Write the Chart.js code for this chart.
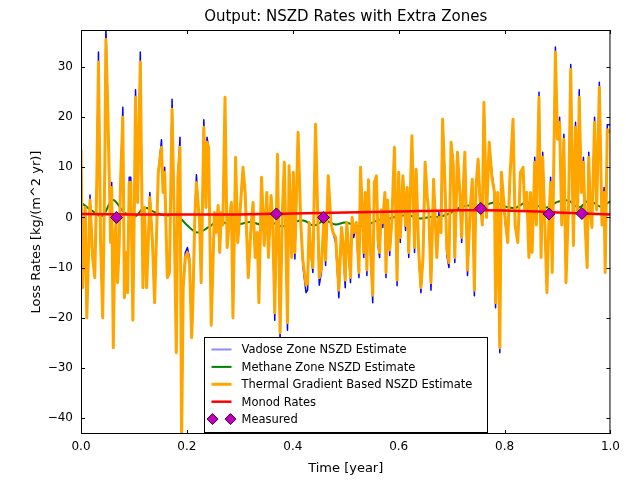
<!DOCTYPE html>
<html>
<head>
<meta charset="utf-8">
<title>NSZD Rates</title>
<script src="https://cdn.jsdelivr.net/npm/chart.js@4.4.1/dist/chart.umd.min.js"></script>
<style>
    html, body { margin: 0; padding: 0; background: #fff; }
</style>
</head>
<body>
<canvas id="nszd" width="626" height="482"></canvas>
<script>
// time axis (fraction of a year) for the vadose / thermal estimates
const times = [
    0.000, 0.003, 0.008, 0.011, 0.017, 0.022, 0.026, 0.030, 0.033, 0.037,
    0.041, 0.045, 0.047, 0.050, 0.053, 0.056, 0.058, 0.061, 0.064, 0.066,
    0.069, 0.072, 0.075, 0.079, 0.082, 0.085, 0.088, 0.091, 0.094, 0.098,
    0.101, 0.103, 0.107, 0.112, 0.117, 0.120, 0.124, 0.130, 0.135, 0.139,
    0.146, 0.152, 0.155, 0.158, 0.163, 0.167, 0.172, 0.176, 0.180, 0.183,
    0.187, 0.190, 0.193, 0.197, 0.201, 0.205, 0.209, 0.211, 0.215, 0.218,
    0.224, 0.227, 0.232, 0.236, 0.238, 0.241, 0.246, 0.252, 0.255, 0.259,
    0.262, 0.265, 0.268, 0.272, 0.276, 0.280, 0.284, 0.287, 0.292, 0.296,
    0.301, 0.306, 0.310, 0.316, 0.321, 0.325, 0.329, 0.333, 0.336, 0.341,
    0.346, 0.351, 0.354, 0.359, 0.362, 0.366, 0.371, 0.376, 0.380, 0.384,
    0.390, 0.393, 0.398, 0.401, 0.404, 0.410, 0.415, 0.419, 0.425, 0.428,
    0.431, 0.434, 0.438, 0.443, 0.450, 0.454, 0.459, 0.462, 0.467, 0.472,
    0.476, 0.481, 0.487, 0.492, 0.495, 0.499, 0.502, 0.506, 0.509, 0.512,
    0.515, 0.520, 0.525, 0.528, 0.531, 0.534, 0.537, 0.540, 0.543, 0.547,
    0.551, 0.554, 0.558, 0.561, 0.564, 0.567, 0.570, 0.574, 0.576, 0.579,
    0.583, 0.587, 0.592, 0.597, 0.600, 0.603, 0.608, 0.613, 0.616, 0.619,
    0.625, 0.630, 0.633, 0.638, 0.642, 0.646, 0.650, 0.654, 0.657, 0.661,
    0.666, 0.672, 0.676, 0.680, 0.683, 0.687, 0.691, 0.695, 0.699, 0.703,
    0.706, 0.711, 0.716, 0.719, 0.722, 0.725, 0.730, 0.735, 0.739, 0.743,
    0.746, 0.750, 0.753, 0.758, 0.761, 0.766, 0.771, 0.776, 0.781, 0.783,
    0.787, 0.791, 0.794, 0.801, 0.806, 0.810, 0.816, 0.820, 0.825, 0.830,
    0.835, 0.838, 0.842, 0.846, 0.849, 0.852, 0.857, 0.860, 0.865, 0.869,
    0.872, 0.875, 0.880, 0.884, 0.887, 0.890, 0.896, 0.900, 0.904, 0.908,
    0.912, 0.916, 0.921, 0.925, 0.930, 0.934, 0.938, 0.941, 0.945, 0.949,
    0.952, 0.956, 0.959, 0.962, 0.965, 0.970, 0.974, 0.979, 0.984, 0.988,
    0.990, 0.994, 1.000,
];

const thermal = [
    13.5, -14, 2, -20, 3.5, -8, -12, 8, 31, -5,
    -20, 10, 35.5, 24, 10, -5, 6, -26, -4, -1,
    -13, -6, 8, 20, -16, -7, -15, 7, 7, -20.5,
    4, 24, 3, 31, -14, 2, -14, 4, -5, -17,
    9, 14, 5, 9, -12, -11, 21.6, 0, -27, 8,
    14, -45, -14, -8, -7, -9, -24, -18, 0, 7,
    -1, -13, 18, 2, 15, 14, -21.5, 1, -3, 2.4,
    -7, 1, -1.5, 24, -6, -1, 3, -20, 12, -5,
    2, 10, 5, -12, -2, 3, -8, -3, -17, 8,
    -5.6, 5, -8, 4.4, -1, -19, 12.6, -23, 0, 11,
    -21, 10.3, -8, 9, -7, 17, -1, -8.5, -13.5, -13,
    -1, -7, -10, 18.6, -12, -10, 0, -8.5, 8.3, -1,
    -3, -4, -14.5, -2, -5, -12.5, -1, -7, -12, 0,
    -3, -1, -11, 10, 2, -7, 5, -10.5, 7.5, -6.5,
    -15.5, 7, 8.3, -4.5, -7, 1.5, -1, 5, -11, 3.5,
    -6.5, -1, 14, -12.5, 9, -4, 8.3, -1.6, 6, -7,
    16.3, -6, 9.6, -7, -14, -8, 11, 4, 1, -13,
    7.6, -8, 0, -3, 19.6, 8, -6.5, -9, 15, 10.5,
    -8, 13, 4, -4, 6, 13, -10.5, 1.5, 7.6, -14.5,
    6, 11.6, 4.5, -1.5, 23, 0, 15, 8, 5, -17,
    5, -26, 9, 0, -5, 7.6, 19.6, -1.6, -5, 9,
    10, 1.5, 5, -8, 5, -7, 11, -1.5, 24, -8,
    12, 2.5, -15, 0, 7, -11, 33, 15.6, 19, -1.5,
    15.6, -13, 3, 29.5, -5.6, 18, 1, 24, 5, 11,
    -1, -10, 12, 1, -2, 19, 1.5, 26, -1.5, 5,
    -11, 17.5, 17,
];

const vadose = [
    16, -14, 2, -20, 4.5, -8, -12, 8, 33, -5,
    -20, 10, 38, 25, 10, -5, 7, -26, -4, -2.5,
    -13, -6, 8, 22, -16, -8.5, -15, 8, 8, -20.5,
    4, 25.5, 3, 33, -14, 2, -14, 5, -5, -17,
    9, 15.5, 5, 10, -12, -11, 23.6, 0, -27, 8,
    16, -45, -14, -7, -6, -8, -24, -19, 0, 8.5,
    -2, -13, 19.5, 2, 16, 14, -21.5, 1, -3, 2.4,
    -7, 1, -1.5, 24, -6, -1, 3, -20, 12, -5,
    2, 10, 5, -12, -2, 3, -8, -3, -17, 8,
    -5.6, 5, -8, 4.4, -1, -20.5, 12.6, -24.5, 0, 11,
    -22.5, 10.3, -8, 9, -8.3, 17, -1, -9.6, -15, -14.5,
    -1, -7, -11, 18.6, -13.5, -11, 0, -9.6, 8.3, -1,
    -3, -5, -16, -2, -5, -14, -1, -8, -13, 0,
    -4, -1.5, -12, 10, 2, -8, 5, -11.6, 7.5, -7.5,
    -17, 7, 8.3, -5.6, -8, 1.5, -2, 5, -12, 3.5,
    -7.6, -1, 14, -13.6, 9, -5, 8.3, -2.6, 6, -8,
    16.3, -7, 9.6, -8, -15, -8, 11, 4, 1, -14.5,
    7.6, -8, 1, -3, 19.6, 9, -7.6, -10, 15, 11.6,
    -9, 13, 4, -5, 6, 13, -11.6, 1.5, 7.6, -15.6,
    6, 11.6, 5.6, -1.5, 23, 1, 15, 9, 5, -18,
    5, -27, 9, -1, -5, 7.6, 19.6, -1.6, -5, 9,
    10, 1.5, 5, -8, 5, -7, 12, -1.5, 25, -8,
    13, 2.5, -15, 0, 8, -11, 34, 15.6, 20, -1.5,
    16.6, -13, 3, 30.5, -5.6, 19, 1, 25.5, 5, 12,
    -1, -10, 13, 1, -2, 20, 1.5, 27, -1.5, 6,
    -11, 18.5, 18.5,
];

// methane zone estimate, sampled every 0.02 yr
const methaneTimes = [
    0.00, 0.02, 0.04, 0.06, 0.08, 0.10, 0.12, 0.14, 0.16, 0.18,
    0.20, 0.22, 0.24, 0.26, 0.28, 0.30, 0.32, 0.34, 0.36, 0.38,
    0.40, 0.42, 0.44, 0.46, 0.48, 0.50, 0.52, 0.54, 0.56, 0.58,
    0.60, 0.62, 0.64, 0.66, 0.68, 0.70, 0.72, 0.74, 0.76, 0.78,
    0.80, 0.82, 0.84, 0.86, 0.88, 0.90, 0.92, 0.94, 0.96, 0.98,
    1.00,
];
const methane = [
    3.0, 1.4, 0.3, 3.5, 1.2, 0.1, 1.9, 1.0, 0.4, 0.5,
    -1.5, -3.0, -2.0, -0.7, -1.4, -1.3, -0.9, -1.4, -1.0, -1.8,
    -1.0, -0.6, -1.6, -0.6, -1.4, -1.0, -1.7, -1.5, -0.6, -0.3,
    0.3, 0.4, -0.2, 0.1, 0.2, 1.0, 2.2, 2.4, 2.3, 3.0,
    2.2, 1.9, 3.0, 2.4, 2.0, 3.1, 3.4, 2.0, 3.4, 2.2,
    3.2,
];

const monodTimes = [0.0, 0.1, 0.2, 0.3, 0.4, 0.5, 0.6, 0.7, 0.8, 0.9, 1.0];
const monod = [0.7, 0.6, 0.6, 0.6, 0.8, 1.0, 1.2, 1.4, 1.4, 1.0, 0.6];

const measuredTimes = [0.067, 0.369, 0.458, 0.755, 0.884, 0.946];
const measured = [0.0, 0.7, 0.0, 1.8, 0.7, 0.8];

const xTicks = [0.0, 0.2, 0.4, 0.6, 0.8, 1.0];
const yTicks = [-40, -30, -20, -10, 0, 10, 20, 30];
const yMin = -43.2;
const yMax = 37.4;

const FONT = '"DejaVu Sans", "Liberation Sans", sans-serif';

function pairs(xs, ys) {
    return xs.map((x, i) => ({x: x, y: ys[i]}));
}

// matplotlib-like frame with inward ticks on all four sides
const axesFrame = {
    id: 'axesFrame',
    afterDatasetsDraw(chart) {
        const {ctx, chartArea: a, scales: {x, y}} = chart;
        const len = 4;
        ctx.save();
        ctx.strokeStyle = '#000';
        ctx.lineWidth = 1;
        ctx.beginPath();
        for (const v of xTicks) {
            const px = Math.round(x.getPixelForValue(v)) + 0.5;
            ctx.moveTo(px, a.top);
            ctx.lineTo(px, a.top + len);
            ctx.moveTo(px, a.bottom);
            ctx.lineTo(px, a.bottom - len);
        }
        for (const v of yTicks) {
            const py = Math.round(y.getPixelForValue(v)) + 0.5;
            ctx.moveTo(a.left, py);
            ctx.lineTo(a.left + len, py);
            ctx.moveTo(a.right, py);
            ctx.lineTo(a.right - len, py);
        }
        ctx.stroke();
        ctx.strokeRect(a.left + 0.5, a.top + 0.5, a.right - a.left - 1, a.bottom - a.top - 1);
        ctx.restore();
    },
};

// legend box sitting in the lower centre of the plot
const boxLegend = {
    id: 'boxLegend',
    afterDraw(chart) {
        const {ctx, chartArea: a} = chart;
        const w = 283, h = 95;
        const left = Math.round((a.left + a.right) / 2 - w / 2) + 0.5;
        const top = Math.round(a.bottom - 2 - h) + 0.5;
        const rowH = 17.4;
        ctx.save();
        ctx.fillStyle = '#fff';
        ctx.fillRect(left, top, w, h);
        ctx.strokeStyle = '#000';
        ctx.lineWidth = 1;
        ctx.strokeRect(left, top, w, h);
        ctx.font = '11.5px ' + FONT;
        ctx.textBaseline = 'middle';
        chart.data.datasets.forEach((ds, i) => {
            const cy = top + 12 + i * rowH;
            if (ds.showLine === false) {
                for (const cx of [left + 8, left + 26]) {
                    ctx.beginPath();
                    ctx.moveTo(cx, cy - 5.5);
                    ctx.lineTo(cx + 5.5, cy);
                    ctx.lineTo(cx, cy + 5.5);
                    ctx.lineTo(cx - 5.5, cy);
                    ctx.closePath();
                    ctx.fillStyle = ds.backgroundColor;
                    ctx.fill();
                    ctx.strokeStyle = ds.borderColor;
                    ctx.stroke();
                }
            } else {
                ctx.beginPath();
                ctx.moveTo(left + 7, cy);
                ctx.lineTo(left + 27, cy);
                ctx.strokeStyle = ds.legendColor || ds.borderColor;
                ctx.lineWidth = ds.legendWidth || ds.borderWidth;
                ctx.stroke();
                ctx.lineWidth = 1;
            }
            ctx.fillStyle = '#000';
            ctx.fillText(ds.label, left + 37, cy + 1);
        });
        ctx.restore();
    },
};

const lineDefaults = {
    pointRadius: 0,
    fill: false,
    borderJoinStyle: 'round',
    tension: 0,
};

new Chart(document.getElementById('nszd').getContext('2d'), {
    type: 'line',
    data: {
        datasets: [
            Object.assign({}, lineDefaults, {
                label: 'Vadose Zone NSZD Estimate',
                data: pairs(times, vadose),
                borderColor: '#0000ff',
                borderWidth: 1.5,
                legendColor: '#8c8cff',
                legendWidth: 2,
                order: 4,
            }),
            Object.assign({}, lineDefaults, {
                label: 'Methane Zone NSZD Estimate',
                data: pairs(methaneTimes, methane),
                borderColor: '#008000',
                borderWidth: 2,
                tension: 0.4,
                order: 3,
            }),
            Object.assign({}, lineDefaults, {
                label: 'Thermal Gradient Based NSZD Estimate',
                data: pairs(times, thermal),
                borderColor: '#ffa500',
                borderWidth: 3,
                order: 2,
            }),
            Object.assign({}, lineDefaults, {
                label: 'Monod Rates',
                data: pairs(monodTimes, monod),
                borderColor: '#ff0000',
                borderWidth: 2.5,
                tension: 0.4,
                order: 1,
            }),
            {
                label: 'Measured',
                data: pairs(measuredTimes, measured),
                showLine: false,
                pointStyle: 'rectRot',
                pointRadius: 6,
                backgroundColor: '#bf00bf',
                borderColor: '#3a003a',
                borderWidth: 1,
                order: 0,
            },
        ],
    },
    options: {
        responsive: false,
        animation: false,
        devicePixelRatio: 1,
        events: [],
        layout: {padding: {top: 0, right: 15, bottom: 0, left: 0}},
        plugins: {
            legend: {display: false},
            tooltip: {enabled: false},
            title: {
                display: true,
                fullSize: false,
                text: 'Output: NSZD Rates with Extra Zones',
                color: '#000',
                font: {family: FONT, size: 15, weight: 'normal'},
                padding: {top: 8, bottom: 4},
            },
        },
        scales: {
            x: {
                type: 'linear',
                min: 0,
                max: 1,
                afterBuildTicks: (s) => { s.ticks = xTicks.map(v => ({value: v})); },
                afterFit: (s) => { s.height = 48; },
                grid: {display: false, drawTicks: false},
                border: {display: false},
                ticks: {
                    padding: 6,
                    color: '#000',
                    autoSkip: false,
                    maxRotation: 0,
                    font: {family: FONT, size: 12},
                    callback: (v) => Number(v).toFixed(1),
                },
                title: {
                    display: true,
                    text: 'Time [year]',
                    color: '#000',
                    font: {family: FONT, size: 13},
                    padding: {top: 0, bottom: 6},
                },
            },
            y: {
                type: 'linear',
                min: yMin,
                max: yMax,
                afterBuildTicks: (s) => { s.ticks = yTicks.map(v => ({value: v})); },
                afterFit: (s) => { s.width = 81; },
                grid: {display: false, drawTicks: false},
                border: {display: false},
                ticks: {
                    padding: 8,
                    color: '#000',
                    font: {family: FONT, size: 12},
                    callback: (v) => (v < 0 ? '\u2212' + Math.abs(v) : String(v)),
                },
                title: {
                    display: true,
                    text: 'Loss Rates [kg/(m^2 yr)]',
                    color: '#000',
                    font: {family: FONT, size: 13},
                    padding: {top: 29, bottom: 0},
                },
            },
        },
    },
    plugins: [axesFrame, boxLegend],
});
</script>
</body>
</html>
